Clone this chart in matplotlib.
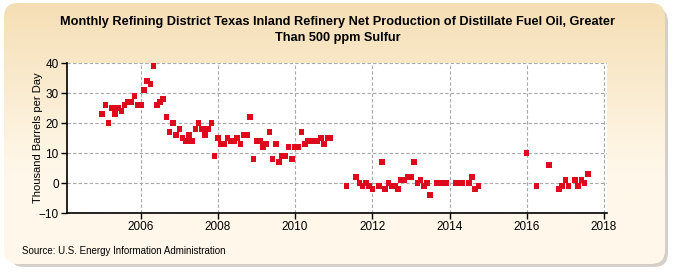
import matplotlib
matplotlib.use("Agg")
import matplotlib.pyplot as plt
import numpy as np
from matplotlib.patches import FancyBboxPatch
from matplotlib import font_manager

# ---------------- data ----------------
months = (
    [f"2005-{m:02d}" for m in range(1, 13)] +
    [f"2006-{m:02d}" for m in range(1, 13)] +
    [f"2007-{m:02d}" for m in range(1, 13)] +
    [f"2008-{m:02d}" for m in range(1, 13)] +
    [f"2009-{m:02d}" for m in range(1, 13)] +
    [f"2010-{m:02d}" for m in range(1, 13)] +
    ["2011-05", "2011-08", "2011-09", "2011-10", "2011-11", "2011-12",
     "2012-01", "2012-03", "2012-04", "2012-05", "2012-06", "2012-07",
     "2012-08", "2012-09", "2012-10", "2012-11", "2012-12",
     "2013-01", "2013-02", "2013-03", "2013-04", "2013-05", "2013-06",
     "2013-07", "2013-09", "2013-10", "2013-11", "2013-12",
     "2014-03", "2014-04", "2014-05", "2014-07", "2014-08", "2014-09", "2014-10",
     "2016-01", "2016-04", "2016-08", "2016-11", "2016-12",
     "2017-01", "2017-02", "2017-04", "2017-05", "2017-06", "2017-07", "2017-08"]
)
values = (
    [23, 26, 20, 25, 23, 25, 24, 26, 27, 27, 29, 26] +
    [26, 31, 34, 33, 39, 26, 27, 28, 22, 17, 20, 16] +
    [18, 15, 14, 16, 14, 18, 20, 18, 16, 18, 20, 9] +
    [15, 13, 13, 15, 14, 14, 15, 13, 16, 16, 22, 8] +
    [14, 14, 12, 13, 17, 8, 13, 7, 9, 9, 12, 8] +
    [12, 12, 17, 13, 14, 14, 14, 14, 15, 13, 15, 15] +
    [-1, 2, 0, -1, 0, -1,
     -2, -1, 7, -2, 0, -1,
     -1, -2, 1, 1, 2,
     2, 7, 0, 1, -1, 0,
     -4, 0, 0, 0, 0,
     0, 0, 0, 0, 2, -2, -1,
     10, -1, 6, -2, -1,
     1, -1, 1, -1, 1, 0, 3]
)
x_ticks = [2006, 2008, 2010, 2012, 2014, 2016, 2018]
y_ticks = [-10, 0, 10, 20, 30, 40]
title = ("Monthly Refining District Texas Inland Refinery Net Production of Distillate Fuel Oil, Greater\n"
         "Than 500 ppm Sulfur")
ylabel = "Thousand Barrels per Day"
source = "Source: U.S. Energy Information Administration"

# ---------------- fonts ----------------
names = {f.name for f in font_manager.fontManager.ttflist}
narrow = "Liberation Sans Narrow" if "Liberation Sans Narrow" in names else "Liberation Sans"
plt.rcParams["font.family"] = [narrow, "DejaVu Sans"]

xs = np.array([int(s[:4]) + (int(s[5:]) - 1) / 12 for s in months])
ys = np.array(values, dtype=float)

W, H = 675, 275
fig = plt.figure(figsize=(W / 100, H / 100), dpi=100)
fig.patch.set_facecolor("white")

# background panel with shadow and gradient
bg = fig.add_axes([0, 0, 1, 1], zorder=-10)
bg.set_xlim(0, W)
bg.set_ylim(H, 0)
bg.axis("off")
shadow = FancyBboxPatch((10, 8), W - 17, H - 16, boxstyle="round,pad=0,rounding_size=14",
                        facecolor="#b8b0a6", edgecolor="none", alpha=0.6)
bg.add_patch(shadow)
panel = FancyBboxPatch((4, 3), W - 14, H - 14, boxstyle="round,pad=0,rounding_size=14",
                       facecolor="none", edgecolor="none")
bg.add_patch(panel)
top_c = np.array([245, 222, 180]) / 255
bot_c = np.array([255, 248, 234]) / 255
t = np.linspace(0, 1, 256)
t = np.clip(t * 1.6, 0, 1)
grad = top_c[None, :] * (1 - t[:, None]) + bot_c[None, :] * t[:, None]
img = bg.imshow(grad[:, None, :], extent=(0, W, H, 0), aspect="auto", zorder=1)
img.set_clip_path(panel)

# main axes
L, R, T, B = 67, 607, 63, 213
ax = fig.add_axes([L / W, 1 - B / H, (R - L) / W, (B - T) / H])
ax.set_facecolor("white")
ax.scatter(xs, ys, marker="s", s=16, color="#dd0a1e", edgecolors="none", zorder=3)
ax.set_xlim(2004.09, 2018.08)
ax.set_ylim(-10, 40)
ax.set_xticks(x_ticks)
ax.set_yticks(y_ticks)
ax.tick_params(labelsize=8.5, length=4, width=1, direction="out", pad=2)
ax.grid(True, linestyle=(0, (3, 2)), color="#a8a8a8", linewidth=0.8)
ax.set_axisbelow(True)
for sp in ["top", "right"]:
    ax.spines[sp].set_visible(False)
for sp in ["left", "bottom"]:
    ax.spines[sp].set_linewidth(1.2)
    ax.spines[sp].set_color("black")
ax.set_ylabel(ylabel, fontsize=8)
ax.yaxis.set_label_coords((43 - L) / (R - L), 0.5)

fig.text(338 / W, 1 - 30 / H, title, ha="center", va="center", fontsize=9.2,
         fontweight="bold", linespacing=1.35)
fig.text(22 / W, 1 - 251 / H, source, ha="left", va="center", fontsize=7)

fig.savefig("out.png", dpi=100)
